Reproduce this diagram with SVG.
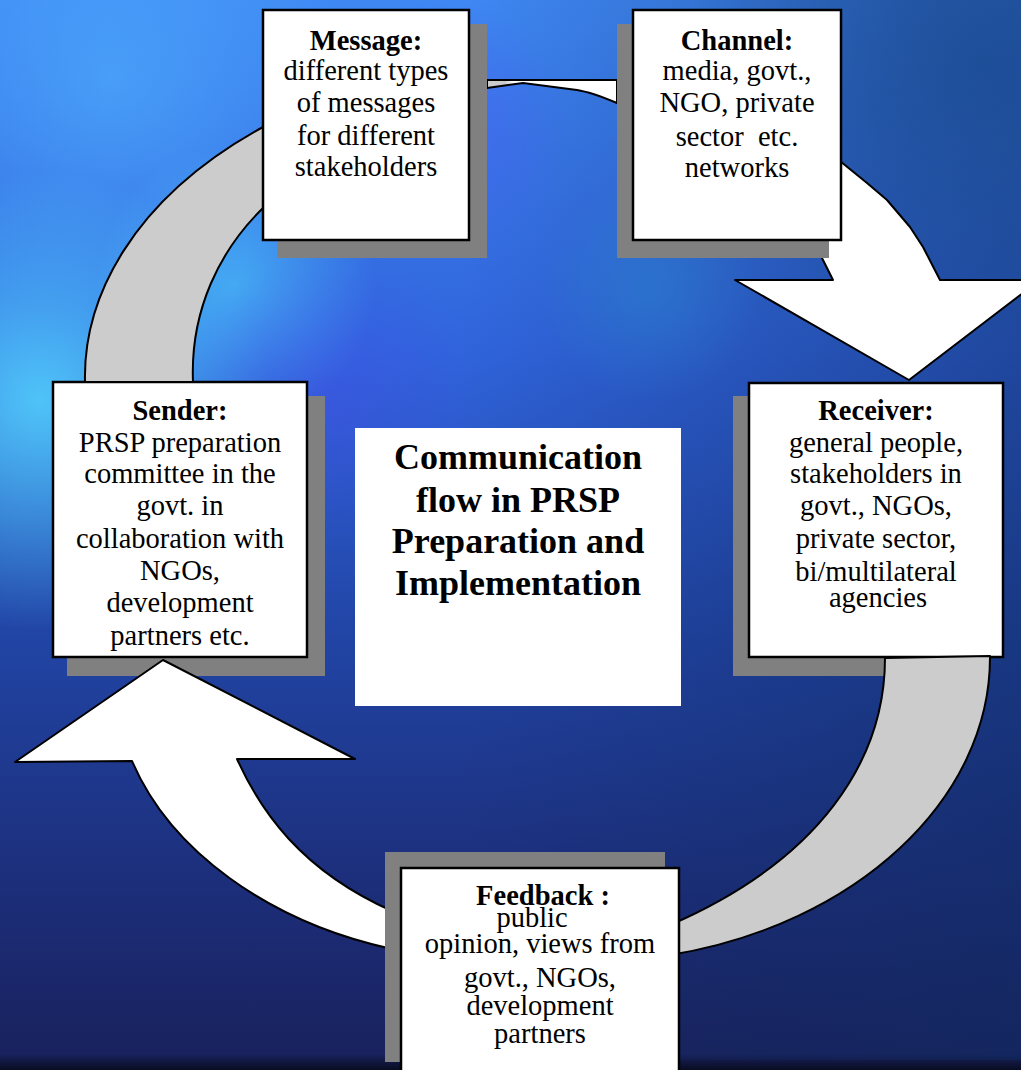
<svg xmlns="http://www.w3.org/2000/svg" width="1021" height="1070" viewBox="0 0 1021 1070">
<defs>
<style>
.bx{fill:#ffffff;stroke:#000000;stroke-width:2.5}
.sh{fill:#808080}
.t{font-family:"Liberation Serif","Times New Roman",serif;font-size:28.5px;fill:#000000;text-anchor:middle}
.b{font-weight:bold}
.ti{font-family:"Liberation Serif","Times New Roman",serif;font-size:36px;font-weight:bold;fill:#000000;text-anchor:middle}
.ag{fill:#cccccc;stroke:#000000;stroke-width:2;stroke-linejoin:round}
.aw{fill:#ffffff;stroke:#000000;stroke-width:2;stroke-linejoin:round}
</style>
<linearGradient id="bg" x1="0" y1="0" x2="0" y2="1">
<stop offset="0" stop-color="#3f88f4"/>
<stop offset="0.33" stop-color="#3064dc"/>
<stop offset="0.6" stop-color="#2144a4"/>
<stop offset="0.85" stop-color="#1c2c76"/>
<stop offset="0.985" stop-color="#19225e"/>
<stop offset="1" stop-color="#080c22"/>
</linearGradient>
<linearGradient id="rd" x1="0" y1="0" x2="1" y2="0">
<stop offset="0.45" stop-color="#0f2a60" stop-opacity="0"/>
<stop offset="1" stop-color="#0f2a60" stop-opacity="0.5"/>
</linearGradient>
<radialGradient id="tr" cx="980" cy="60" r="300" gradientUnits="userSpaceOnUse">
<stop offset="0" stop-color="#1a4a90" stop-opacity="0.7"/>
<stop offset="1" stop-color="#1a4a90" stop-opacity="0"/>
</radialGradient>
<radialGradient id="c1" cx="40" cy="400" r="230" gradientUnits="userSpaceOnUse">
<stop offset="0" stop-color="#55d6ff" stop-opacity="0.85"/>
<stop offset="1" stop-color="#55d6ff" stop-opacity="0"/>
</radialGradient>
<radialGradient id="c2" cx="235" cy="285" r="140" gradientUnits="userSpaceOnUse">
<stop offset="0" stop-color="#50d2ff" stop-opacity="0.6"/>
<stop offset="1" stop-color="#50d2ff" stop-opacity="0"/>
</radialGradient>
<radialGradient id="c3" cx="110" cy="80" r="240" gradientUnits="userSpaceOnUse">
<stop offset="0" stop-color="#52b6ff" stop-opacity="0.55"/>
<stop offset="1" stop-color="#52b6ff" stop-opacity="0"/>
</radialGradient>
<radialGradient id="c4" cx="650" cy="290" r="110" gradientUnits="userSpaceOnUse">
<stop offset="0" stop-color="#2a88d0" stop-opacity="0.45"/>
<stop offset="1" stop-color="#2a88d0" stop-opacity="0"/>
</radialGradient>
<radialGradient id="p1" cx="440" cy="130" r="130" gradientUnits="userSpaceOnUse">
<stop offset="0" stop-color="#5050f4" stop-opacity="0.4"/>
<stop offset="1" stop-color="#5050f4" stop-opacity="0"/>
</radialGradient>
<radialGradient id="p2" cx="330" cy="400" r="150" gradientUnits="userSpaceOnUse">
<stop offset="0" stop-color="#4a4cf0" stop-opacity="0.35"/>
<stop offset="1" stop-color="#4a4cf0" stop-opacity="0"/>
</radialGradient>
<linearGradient id="tb" x1="487" y1="0" x2="617" y2="0" gradientUnits="userSpaceOnUse">
<stop offset="0" stop-color="#cccccc"/>
<stop offset="0.14" stop-color="#cccccc"/>
<stop offset="0.2" stop-color="#ffffff"/>
<stop offset="1" stop-color="#ffffff"/>
</linearGradient>
</defs>

<g id="background">
<rect x="0" y="0" width="1021" height="1070" fill="url(#bg)"/>
<rect x="0" y="0" width="1021" height="1060" fill="url(#rd)"/>
<rect x="0" y="0" width="1021" height="1070" fill="url(#tr)"/>
<rect x="0" y="0" width="1021" height="1070" fill="url(#c3)"/>
<rect x="0" y="0" width="1021" height="1070" fill="url(#c1)"/>
<rect x="0" y="0" width="1021" height="1070" fill="url(#c2)"/>
<rect x="0" y="0" width="1021" height="1070" fill="url(#c4)"/>
<rect x="0" y="0" width="1021" height="1070" fill="url(#p1)"/>
<rect x="0" y="0" width="1021" height="1070" fill="url(#p2)"/>
</g>

<g id="node-sender">
<rect class="sh" x="67" y="396" width="258" height="280"/>
<rect class="bx" x="53" y="382" width="254" height="275"/>
<text class="t b" x="180" y="420">Sender:</text>
<text class="t" x="180" y="452">PRSP preparation</text>
<text class="t" x="180" y="483">committee in the</text>
<text class="t" x="180" y="515">govt. in</text>
<text class="t" x="180" y="548">collaboration with</text>
<text class="t" x="180" y="580">NGOs,</text>
<text class="t" x="180" y="612">development</text>
<text class="t" x="180" y="645">partners etc.</text>
</g>

<g id="node-receiver">
<rect class="sh" x="733" y="396" width="254" height="280"/>
<rect class="bx" x="749" y="383" width="254" height="274"/>
<text class="t b" x="876" y="420">Receiver:</text>
<text class="t" x="876" y="452">general people,</text>
<text class="t" x="876" y="483">stakeholders in</text>
<text class="t" x="876" y="515">govt., NGOs,</text>
<text class="t" x="876" y="548">private sector,</text>
<text class="t" x="876" y="581">bi/multilateral</text>
<text class="t" x="878" y="607">agencies</text>
</g>

<g id="connectors">
<path class="ag" d="M85,382 C83,300 130,200 263,127 L263,208 C220,250 190,310 193,382 Z"/>
<path d="M487,80 L617,80 L617,103 C605,98 590,92 577,90 L523,83 L487,88 Z" fill="url(#tb)" stroke="#000" stroke-width="2" stroke-linejoin="round"/>
<path class="aw" d="M835,157 L867,183 L887,200 L910,227 L923,247 L940,280 L1040,280 L909,380 L735,280 L833,280 L823,260 L815,245 L815,157 Z"/>
<path class="ag" d="M885,658 C885,760 820,860 670,925 L670,955 C855,925 991,800 990,656 Z"/>
<path class="aw" d="M163,660 L355,759 L237,759 C260,810 300,870 392,911 L392,949 C268,922 170,850 132,761 L15,762 Z"/>
</g>

<g id="node-message">
<rect class="sh" x="277" y="24" width="210" height="234"/>
<rect class="bx" x="263" y="10" width="206" height="230"/>
<text class="t b" x="366" y="50">Message:</text>
<text class="t" x="366" y="80">different types</text>
<text class="t" x="366" y="112">of messages</text>
<text class="t" x="366" y="145">for different</text>
<text class="t" x="366" y="176">stakeholders</text>
</g>

<g id="node-channel">
<rect class="sh" x="617" y="24" width="212" height="234"/>
<rect class="bx" x="633" y="10" width="208" height="230"/>
<text class="t b" x="737" y="50">Channel:</text>
<text class="t" x="737" y="80">media, govt.,</text>
<text class="t" x="737" y="112">NGO, private</text>
<text class="t" x="737" y="146">sector &#160;etc.</text>
<text class="t" x="737" y="177">networks</text>
</g>

<g id="node-feedback">
<rect class="sh" x="385" y="852" width="280" height="210"/>
<rect class="bx" x="401" y="868" width="278" height="215"/>
<text class="t b" x="543" y="905">Feedback :</text>
<text class="t" x="532" y="927">public</text>
<text class="t" x="540" y="953">opinion, views from</text>
<text class="t" x="540" y="987">govt., NGOs,</text>
<text class="t" x="540" y="1015">development</text>
<text class="t" x="540" y="1043">partners</text>
</g>

<g id="node-title">
<rect x="355" y="428" width="326" height="278" fill="#ffffff"/>
<text class="ti" x="518" y="469">Communication</text>
<text class="ti" x="518" y="512">flow in PRSP</text>
<text class="ti" x="518" y="553">Preparation and</text>
<text class="ti" x="518" y="595">Implementation</text>
</g>
</svg>
